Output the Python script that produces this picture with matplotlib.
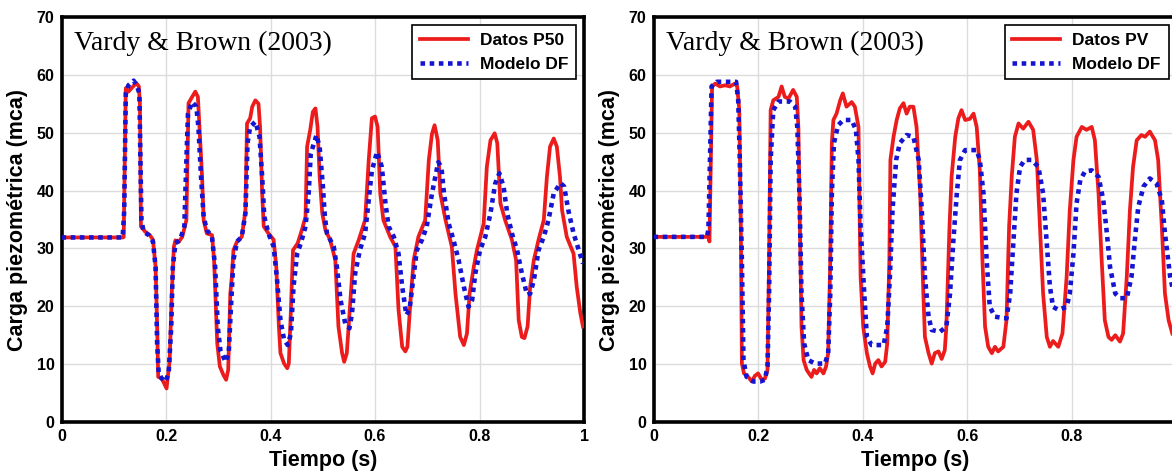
import numpy as np
import matplotlib.pyplot as plt

# Panel izquierdo: Datos P50 vs Modelo DF
t_p50 = [0.000, 0.118, 0.119, 0.121, 0.123, 0.128, 0.135, 0.143, 0.148, 0.150, 0.152, 0.160,
         0.169, 0.175, 0.180, 0.183, 0.185, 0.192, 0.201, 0.207, 0.211, 0.215, 0.218, 0.224,
         0.231, 0.239, 0.241, 0.243, 0.250, 0.256, 0.261, 0.264, 0.269, 0.272, 0.278, 0.288,
         0.292, 0.298, 0.303, 0.310, 0.315, 0.319, 0.323, 0.326, 0.329, 0.336, 0.345, 0.352,
         0.355, 0.361, 0.365, 0.371, 0.377, 0.380, 0.384, 0.387, 0.396, 0.406, 0.411, 0.416,
         0.419, 0.426, 0.432, 0.435, 0.439, 0.443, 0.452, 0.460, 0.467, 0.470, 0.476, 0.481,
         0.486, 0.490, 0.494, 0.499, 0.505, 0.514, 0.524, 0.530, 0.537, 0.541, 0.546, 0.553,
         0.559, 0.569, 0.581, 0.588, 0.594, 0.600, 0.605, 0.610, 0.616, 0.629, 0.639, 0.645,
         0.652, 0.658, 0.662, 0.668, 0.674, 0.683, 0.696, 0.703, 0.709, 0.714, 0.720, 0.725,
         0.735, 0.747, 0.754, 0.763, 0.770, 0.776, 0.781, 0.789, 0.795, 0.808, 0.814, 0.821,
         0.829, 0.834, 0.840, 0.849, 0.862, 0.870, 0.875, 0.881, 0.886, 0.892, 0.897, 0.904,
         0.913, 0.923, 0.929, 0.935, 0.942, 0.948, 0.954, 0.958, 0.967, 0.980, 0.986, 0.993,
         0.998]
h_p50 = [31.9, 31.9, 32.0, 45.0, 57.7, 57.1, 57.8, 58.6, 58.0, 55.0, 33.8, 32.9,
         32.3, 31.5, 26.8, 16.5, 7.8, 7.5, 5.8, 10.7, 22.2, 30.3, 31.4, 31.1,
         32.0, 34.9, 45.3, 55.1, 56.2, 57.1, 56.2, 51.0, 42.4, 34.9, 32.6, 32.3,
         28.0, 13.6, 9.6, 8.1, 7.3, 9.0, 22.2, 25.1, 29.7, 31.2, 32.0, 36.6,
         51.6, 52.5, 54.5, 55.6, 55.0, 51.0, 39.5, 33.8, 32.6, 31.5, 26.8, 16.5,
         11.9, 10.1, 9.3, 10.1, 19.4, 29.7, 30.9, 33.2, 35.5, 47.6, 50.5, 53.6,
         54.2, 51.0, 42.4, 36.1, 33.2, 31.5, 28.0, 16.5, 11.9, 10.4, 11.9, 21.1,
         29.1, 31.5, 34.9, 45.3, 52.5, 52.8, 51.0, 39.5, 34.9, 32.0, 30.3, 19.4,
         13.0, 12.2, 13.0, 21.1, 28.0, 32.0, 34.9, 45.3, 49.8, 51.3, 48.7, 39.5,
         34.9, 30.3, 22.2, 14.7, 13.3, 15.3, 22.2, 26.8, 29.7, 34.3, 44.1, 48.7,
         49.9, 48.2, 37.8, 34.9, 31.5, 28.0, 17.6, 14.7, 14.5, 16.5, 23.4, 28.0,
         31.5, 34.9, 42.4, 47.6, 49.0, 47.6, 42.4, 36.6, 32.0, 29.1, 23.4, 18.8,
         16.5]

t_df1 = [0.000, 0.117, 0.120, 0.123, 0.128, 0.138, 0.144, 0.149, 0.151, 0.153, 0.157, 0.167,
         0.175, 0.180, 0.183, 0.186, 0.192, 0.199, 0.205, 0.210, 0.213, 0.218, 0.227, 0.235,
         0.239, 0.242, 0.250, 0.258, 0.262, 0.267, 0.272, 0.278, 0.288, 0.294, 0.299, 0.304,
         0.314, 0.320, 0.324, 0.329, 0.336, 0.345, 0.352, 0.356, 0.361, 0.371, 0.379, 0.384,
         0.388, 0.396, 0.406, 0.412, 0.419, 0.426, 0.433, 0.439, 0.444, 0.451, 0.458, 0.467,
         0.473, 0.477, 0.488, 0.494, 0.500, 0.504, 0.508, 0.521, 0.527, 0.534, 0.543, 0.551,
         0.556, 0.562, 0.571, 0.581, 0.588, 0.594, 0.604, 0.613, 0.620, 0.626, 0.636, 0.645,
         0.652, 0.660, 0.666, 0.673, 0.680, 0.690, 0.699, 0.709, 0.721, 0.727, 0.732, 0.741,
         0.750, 0.760, 0.770, 0.779, 0.786, 0.792, 0.801, 0.811, 0.821, 0.830, 0.838, 0.846,
         0.853, 0.862, 0.872, 0.881, 0.891, 0.897, 0.904, 0.913, 0.923, 0.932, 0.942, 0.955,
         0.962, 0.970, 0.980, 0.990, 0.998]
h_df1 = [31.9, 31.9, 36.6, 56.8, 58.2, 59.0, 58.2, 56.8, 45.3, 34.9, 32.9, 32.3,
         31.2, 26.8, 13.6, 8.4, 7.5, 7.0, 8.4, 16.5, 26.8, 30.9, 31.5, 33.8,
         45.3, 53.3, 55.3, 54.5, 51.0, 42.4, 35.5, 33.2, 32.0, 26.8, 16.5, 12.4,
         10.4, 11.9, 19.4, 28.0, 31.2, 32.0, 36.1, 48.2, 51.0, 51.9, 49.3, 42.4,
         35.5, 32.6, 30.3, 25.1, 17.6, 14.2, 13.3, 15.3, 23.4, 29.1, 30.9, 33.8,
         39.5, 46.4, 49.6, 47.5, 41.0, 35.5, 32.6, 30.3, 26.8, 21.1, 17.0, 16.2,
         18.8, 25.7, 29.7, 32.6, 38.4, 43.5, 46.7, 44.1, 37.8, 33.8, 32.0, 29.1,
         23.4, 18.5, 19.4, 24.6, 29.7, 31.5, 33.8, 39.5, 44.9, 44.1, 39.5, 34.3,
         31.5, 28.0, 23.4, 19.9, 21.1, 25.7, 29.7, 32.0, 36.1, 41.2, 43.0, 40.7,
         36.1, 32.6, 29.7, 25.7, 22.0, 22.2, 24.5, 29.7, 32.0, 34.9, 39.5, 41.3,
         40.7, 36.6, 32.6, 29.7, 27.4]

# Panel derecho: Datos PV vs Modelo DF
t_pv = [0.000, 0.105, 0.107, 0.108, 0.110, 0.112, 0.118, 0.127, 0.137, 0.146, 0.156, 0.160,
        0.164, 0.167, 0.169, 0.173, 0.181, 0.188, 0.194, 0.200, 0.207, 0.213, 0.218, 0.221,
        0.224, 0.229, 0.239, 0.245, 0.251, 0.258, 0.267, 0.274, 0.277, 0.280, 0.283, 0.287,
        0.293, 0.302, 0.307, 0.312, 0.318, 0.325, 0.330, 0.334, 0.338, 0.341, 0.344, 0.350,
        0.357, 0.362, 0.369, 0.379, 0.385, 0.392, 0.394, 0.396, 0.401, 0.408, 0.414, 0.419,
        0.424, 0.430, 0.436, 0.443, 0.447, 0.451, 0.453, 0.459, 0.465, 0.471, 0.478, 0.484,
        0.490, 0.497, 0.503, 0.510, 0.516, 0.519, 0.526, 0.532, 0.538, 0.545, 0.551, 0.557,
        0.560, 0.566, 0.570, 0.577, 0.583, 0.589, 0.596, 0.605, 0.612, 0.618, 0.624, 0.629,
        0.634, 0.640, 0.647, 0.653, 0.659, 0.669, 0.675, 0.680, 0.685, 0.691, 0.698, 0.707,
        0.717, 0.726, 0.733, 0.739, 0.745, 0.752, 0.758, 0.764, 0.774, 0.782, 0.790, 0.796,
        0.803, 0.809, 0.819, 0.828, 0.838, 0.844, 0.851, 0.857, 0.863, 0.870, 0.876, 0.883,
        0.892, 0.898, 0.905, 0.911, 0.917, 0.924, 0.933, 0.940, 0.949, 0.959, 0.965, 0.972,
        0.978, 0.985, 0.992]
h_pv = [32.0, 32.0, 31.2, 36.6, 48.2, 58.0, 58.5, 58.0, 58.2, 58.0, 58.5, 58.0,
        53.9, 33.8, 10.1, 8.4, 7.8, 7.0, 8.0, 8.4, 7.3, 7.5, 9.0, 28.0,
        53.9, 55.6, 56.2, 58.0, 56.2, 55.9, 57.4, 56.2, 51.0, 33.8, 16.5, 10.7,
        9.0, 7.8, 9.0, 8.4, 9.3, 8.4, 9.6, 11.9, 28.0, 48.2, 52.2, 53.3,
        55.6, 56.8, 54.5, 55.3, 54.5, 51.0, 36.6, 25.1, 16.5, 11.9, 9.6, 8.4,
        10.1, 10.7, 9.6, 10.4, 13.6, 28.0, 45.3, 49.3, 52.2, 54.2, 55.1, 53.3,
        54.5, 54.5, 51.0, 39.5, 22.2, 14.7, 11.9, 10.1, 11.9, 12.2, 10.9, 12.4,
        16.5, 33.8, 42.4, 49.3, 52.5, 53.9, 52.2, 52.4, 53.3, 51.0, 43.5, 28.0,
        16.5, 13.0, 11.9, 13.0, 12.2, 13.0, 17.6, 33.8, 42.4, 49.3, 51.6, 50.7,
        51.9, 50.5, 45.3, 33.8, 22.2, 14.7, 13.0, 14.0, 13.0, 15.3, 25.1, 36.6,
        45.3, 49.3, 51.0, 50.5, 51.0, 48.7, 39.5, 28.0, 17.6, 14.7, 14.2, 15.0,
        13.9, 15.3, 25.1, 36.6, 44.1, 48.7, 49.6, 49.3, 50.2, 48.7, 45.3, 33.8,
        22.2, 17.6, 15.3]

t_df2 = [0.000, 0.102, 0.105, 0.108, 0.111, 0.121, 0.140, 0.158, 0.162, 0.165, 0.169, 0.172,
         0.178, 0.191, 0.204, 0.213, 0.218, 0.221, 0.224, 0.229, 0.239, 0.261, 0.271, 0.275,
         0.279, 0.283, 0.288, 0.296, 0.309, 0.328, 0.334, 0.338, 0.341, 0.345, 0.353, 0.363,
         0.379, 0.387, 0.392, 0.396, 0.403, 0.408, 0.417, 0.440, 0.447, 0.452, 0.457, 0.464,
         0.471, 0.484, 0.497, 0.507, 0.513, 0.519, 0.526, 0.532, 0.548, 0.560, 0.567, 0.573,
         0.580, 0.586, 0.596, 0.618, 0.624, 0.631, 0.637, 0.643, 0.653, 0.675, 0.682, 0.688,
         0.694, 0.701, 0.710, 0.723, 0.736, 0.745, 0.752, 0.758, 0.764, 0.774, 0.790, 0.796,
         0.803, 0.809, 0.816, 0.825, 0.838, 0.851, 0.860, 0.867, 0.873, 0.883, 0.892, 0.905,
         0.914, 0.921, 0.927, 0.937, 0.949, 0.962, 0.972, 0.978, 0.988, 0.992]
h_df2 = [32.0, 32.0, 33.2, 45.3, 58.0, 58.8, 58.8, 58.8, 55.6, 45.3, 28.0, 10.7,
         7.8, 7.0, 7.0, 7.3, 9.6, 22.2, 45.3, 53.9, 55.4, 55.4, 54.5, 51.0,
         39.5, 22.2, 13.6, 10.7, 10.1, 10.1, 11.9, 22.2, 39.5, 48.2, 51.3, 52.2,
         52.2, 50.5, 45.3, 33.8, 22.2, 14.7, 13.3, 13.3, 16.5, 25.1, 36.6, 45.3,
         48.2, 49.6, 49.3, 45.3, 36.6, 25.1, 18.2, 15.9, 15.6, 16.5, 22.2, 30.9,
         39.5, 45.3, 47.0, 47.0, 45.3, 39.5, 28.0, 19.9, 18.2, 17.9, 22.2, 30.9,
         39.5, 44.1, 45.3, 45.3, 44.1, 39.5, 30.9, 23.4, 19.9, 19.4, 19.9, 22.2,
         29.1, 37.8, 41.8, 43.3, 43.5, 42.4, 38.4, 32.6, 26.8, 22.2, 21.4, 21.4,
         25.1, 32.0, 37.2, 40.7, 42.1, 41.2, 38.4, 32.6, 25.1, 23.4]

x_ticks = [0, 0.2, 0.4, 0.6, 0.8, 1]
x_labels_izq = ['0', '0.2', '0.4', '0.6', '0.8', '1']
# el panel derecho queda recortado en el borde: su "1" no se ve
x_labels_der = ['0', '0.2', '0.4', '0.6', '0.8', '']
y_ticks = [0, 10, 20, 30, 40, 50, 60, 70]

paneles = [
    (t_p50, h_p50, 'Datos P50', t_df1, h_df1, x_labels_izq),
    (t_pv, h_pv, 'Datos PV', t_df2, h_df2, x_labels_der),
]

plt.rcParams['font.family'] = ['Liberation Sans', 'DejaVu Sans']
plt.rcParams['font.weight'] = 'bold'

fig = plt.figure(figsize=(11.72, 4.74), dpi=100)
posiciones = [[0.0525, 0.1097, 0.4458, 0.8544], [0.5576, 0.1097, 0.4462, 0.8544]]

for pos, (t_dat, h_dat, nombre, t_mod, h_mod, xlabs) in zip(posiciones, paneles):
    ax = fig.add_axes(pos)
    ax.plot(t_dat, h_dat, color='#ec1c1c', lw=2.7, label=nombre, zorder=3)
    ax.plot(t_mod, h_mod, color='#1414d2', lw=3.3, linestyle=(0, (1, 1)),
            label='Modelo DF', zorder=4)
    ax.set_xlim(0, 1)
    ax.set_ylim(0, 70)
    ax.set_xticks(x_ticks)
    ax.set_xticklabels(xlabs)
    ax.set_yticks(y_ticks)
    ax.grid(True, color='#dcdcdc', lw=1)
    ax.set_axisbelow(True)
    ax.tick_params(length=0, labelsize=11.5, pad=5)
    for lab in ax.get_xticklabels() + ax.get_yticklabels():
        lab.set_fontweight('bold')
    for sp in ax.spines.values():
        sp.set_linewidth(2.6)
        sp.set_color('black')
    ax.set_xlabel('Tiempo (s)', fontsize=15.5, fontweight='bold')
    ax.set_ylabel('Carga piezométrica (mca)', fontsize=15.5, fontweight='bold')
    ax.xaxis.set_label_coords(0.5, -0.068)
    ax.yaxis.set_label_coords(-0.064, 0.5)
    ax.text(0.024, 0.965, 'Vardy & Brown (2003)', transform=ax.transAxes,
            family='Liberation Serif', fontweight='normal', fontsize=20, va='top')
    leg = ax.legend(loc='upper right', fancybox=False, framealpha=1, edgecolor='black',
                    prop={'weight': 'bold', 'size': 12.5}, handlelength=2.75,
                    borderaxespad=0.45, borderpad=0.45, labelspacing=0.5,
                    handletextpad=0.7)
    leg.get_frame().set_linewidth(1.2)

fig.savefig('out.png', dpi=100)
